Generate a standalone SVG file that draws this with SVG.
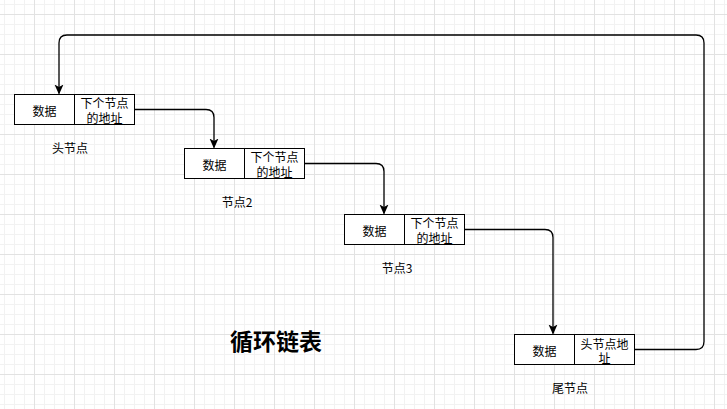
<svg xmlns="http://www.w3.org/2000/svg" width="727" height="409" viewBox="0 0 727 409">
<style>
.cell{fill:#fff;stroke:#000;stroke-width:1}
.t{font-family:"Noto Sans CJK SC","Noto Sans",sans-serif;font-size:12px;fill:#000;text-anchor:middle;dominant-baseline:central}
.title{font-family:"Noto Sans CJK SC","Noto Sans",sans-serif;font-size:23px;font-weight:bold;fill:#000;text-anchor:middle;dominant-baseline:central}
.edge{fill:none;stroke:#000;stroke-width:1.3}
</style>
<defs>
<pattern id="grid" x="34" y="14" width="40" height="40" patternUnits="userSpaceOnUse">
<path d="M10.5,0V40M20.5,0V40M30.5,0V40M0,10.5H40M0,20.5H40M0,30.5H40" stroke="#f2f2f2" stroke-width="1" fill="none"/>
<path d="M0.5,0V40M0,0.5H40" stroke="#e2e2e2" stroke-width="1" fill="none"/>
</pattern>
<marker id="arr" viewBox="0 0 10 10" refX="9" refY="5" markerWidth="10" markerHeight="10" markerUnits="userSpaceOnUse" orient="auto">
<path d="M0,0.5 L10,5 L0,9.5 L2.5,5 z" fill="#000"/>
</marker>
</defs>
<rect width="727" height="409" fill="#fff"/>
<rect width="727" height="409" fill="url(#grid)"/>
<g id="connectors">
<path class="edge" marker-end="url(#arr)" d="M134.5,109.5 H206 Q214,109.5 214,117.5 V147.5"/>
<path class="edge" marker-end="url(#arr)" d="M304.5,163.5 H376 Q384,163.5 384,171.5 V213.5"/>
<path class="edge" marker-end="url(#arr)" d="M464.5,229.5 H545 Q553,229.5 553,237.5 V333.5"/>
<path class="edge" marker-end="url(#arr)" d="M634.5,349.5 H696 Q704,349.5 704,341.5 V43 Q704,35 696,35 H67 Q59,35 59,43 V93.5"/>
</g>
<g id="node1">
<rect class="cell" x="14.5" y="94.5" width="60" height="30"/>
<rect class="cell" x="74.5" y="94.5" width="60" height="30"/>
<text class="t" x="44.5" y="110">数据</text>
<text class="t" x="104.5" y="102">下个节点<tspan x="104.5" dy="15">的地址</tspan></text>
</g>
<g id="label1"><text class="t" x="70" y="147">头节点</text></g>
<g id="node2">
<rect class="cell" x="184.5" y="148.5" width="60" height="30"/>
<rect class="cell" x="244.5" y="148.5" width="60" height="30"/>
<text class="t" x="214.5" y="164">数据</text>
<text class="t" x="274.5" y="156">下个节点<tspan x="274.5" dy="15">的地址</tspan></text>
</g>
<g id="label2"><text class="t" x="237" y="201">节点2</text></g>
<g id="node3">
<rect class="cell" x="344.5" y="214.5" width="60" height="30"/>
<rect class="cell" x="404.5" y="214.5" width="60" height="30"/>
<text class="t" x="374.5" y="230">数据</text>
<text class="t" x="434.5" y="222">下个节点<tspan x="434.5" dy="15">的地址</tspan></text>
</g>
<g id="label3"><text class="t" x="397" y="267">节点3</text></g>
<g id="node4">
<rect class="cell" x="514.5" y="334.5" width="60" height="30"/>
<rect class="cell" x="574.5" y="334.5" width="60" height="30"/>
<text class="t" x="544.5" y="350">数据</text>
<text class="t" x="604.5" y="343">头节点地<tspan x="604.5" dy="14">址</tspan></text>
</g>
<g id="label4"><text class="t" x="570" y="387">尾节点</text></g>
<g id="title"><text class="title" x="276" y="340">循环链表</text></g>
</svg>
